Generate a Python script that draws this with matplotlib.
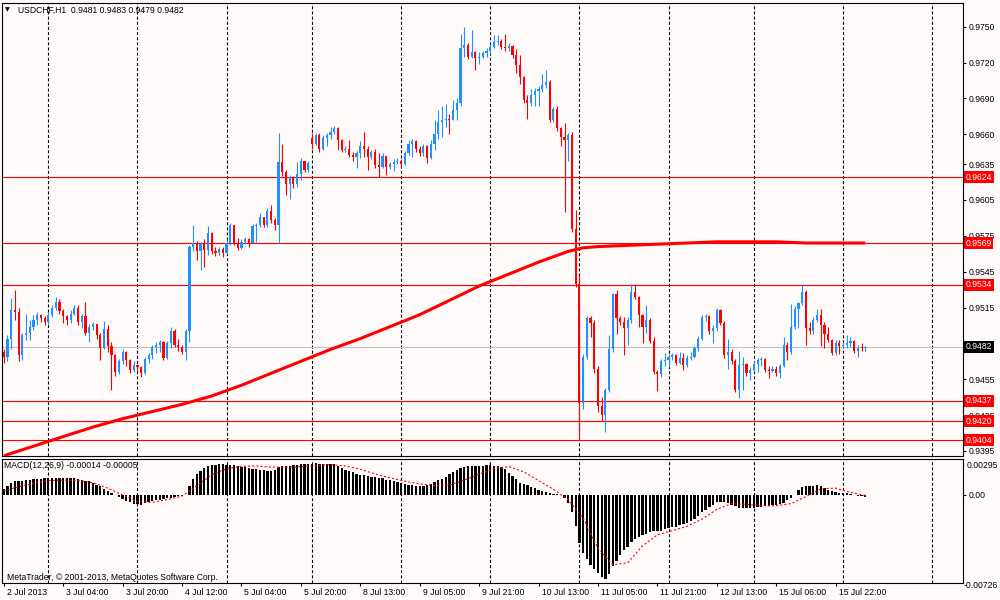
import numpy as np
import matplotlib
matplotlib.use("Agg")
import matplotlib.pyplot as plt
from matplotlib import transforms

plt.rcParams['font.family'] = ['Liberation Sans', 'DejaVu Sans']
plt.rcParams['lines.scale_dashes'] = False

# H1 candles, prices in pips (0.9474 -> 9474); open = previous close
first_open = 9478
gap_opens = {83: 9657}
closes = [
    9474, 9489, 9513, 9511, 9475, 9492, 9494, 9499, 9505, 9509,
    9506, 9503, 9509, 9515, 9520, 9512, 9508, 9505, 9510, 9515,
    9503, 9508, 9494, 9499, 9501, 9492, 9481, 9497, 9483, 9475,
    9461, 9470, 9478, 9471, 9463, 9467, 9465, 9460, 9472, 9475,
    9482, 9484, 9486, 9473, 9485, 9495, 9484, 9482, 9478, 9495,
    9566, 9569, 9562, 9568, 9563, 9577, 9562, 9561, 9564, 9561,
    9569, 9584, 9569, 9565, 9570, 9572, 9569, 9583, 9584, 9591,
    9584, 9596, 9588, 9584, 9637, 9628, 9618, 9624, 9618, 9627,
    9638, 9630, 9636, 9652, 9659, 9648, 9657, 9659, 9662, 9665,
    9655, 9647, 9648, 9643, 9641, 9644, 9650, 9648, 9641, 9645,
    9634, 9633, 9642, 9633, 9635, 9637, 9638, 9635, 9644, 9652,
    9654, 9648, 9644, 9650, 9640, 9652, 9660, 9670, 9672, 9673,
    9672, 9680, 9686, 9732, 9735, 9725, 9729, 9724, 9725, 9728,
    9730, 9733, 9737, 9738, 9733, 9732, 9734, 9726, 9718, 9708,
    9689, 9686, 9693, 9696, 9698, 9701, 9704, 9672, 9681, 9665,
    9658, 9655, 9659, 9581, 9535, 9435, 9474, 9506, 9502, 9464,
    9433, 9425, 9446, 9480, 9526, 9506, 9503, 9498, 9505, 9528,
    9524, 9509, 9499, 9505, 9487, 9461, 9459, 9470, 9471, 9474,
    9475, 9469, 9473, 9467, 9473, 9474, 9481, 9489, 9507, 9508,
    9495, 9498, 9513, 9502, 9475, 9478, 9470, 9446, 9467, 9468,
    9460, 9463, 9468, 9471, 9472, 9463, 9462, 9464, 9460, 9466,
    9484, 9478, 9499, 9514, 9519, 9528, 9498, 9495, 9505, 9509,
    9500, 9493, 9488, 9477, 9485, 9483, 9484, 9485, 9487, 9479,
    9481, 9481, 9482,
]
highs = [
    9480, 9492, 9523, 9530, 9515, 9494, 9510, 9505, 9509, 9511,
    9510, 9508, 9511, 9517, 9524, 9522, 9514, 9509, 9513, 9517,
    9517, 9510, 9520, 9501, 9503, 9501, 9494, 9504, 9500, 9486,
    9476, 9472, 9480, 9479, 9472, 9470, 9468, 9466, 9474, 9477,
    9484, 9486, 9488, 9487, 9487, 9499, 9497, 9489, 9484, 9497,
    9567, 9584, 9571, 9570, 9572, 9583, 9578, 9566, 9566, 9566,
    9572, 9586, 9584, 9573, 9572, 9574, 9573, 9585, 9586, 9594,
    9590, 9598, 9601, 9590, 9661, 9652, 9630, 9626, 9625, 9637,
    9640, 9637, 9638, 9661, 9661, 9661, 9659, 9661, 9666, 9667,
    9666, 9656, 9650, 9655, 9645, 9646, 9654, 9662, 9650, 9647,
    9648, 9644, 9644, 9642, 9637, 9639, 9640, 9639, 9646, 9655,
    9656, 9655, 9650, 9652, 9651, 9655, 9672, 9680, 9684, 9685,
    9677, 9689, 9690, 9744, 9750, 9736, 9747, 9730, 9729, 9730,
    9732, 9735, 9743, 9743, 9740, 9744, 9736, 9735, 9731, 9726,
    9709, 9693, 9698, 9699, 9700, 9710, 9714, 9705, 9683, 9684,
    9666, 9669, 9661, 9662, 9597, 9541, 9476, 9508, 9508, 9505,
    9466, 9440, 9448, 9492, 9527, 9530, 9508, 9507, 9507, 9535,
    9535, 9525, 9510, 9517, 9506, 9490, 9463, 9472, 9477, 9476,
    9477, 9476, 9478, 9477, 9475, 9478, 9483, 9491, 9509, 9510,
    9509, 9500, 9515, 9514, 9504, 9489, 9480, 9472, 9479, 9474,
    9469, 9465, 9470, 9473, 9474, 9473, 9466, 9466, 9466, 9468,
    9490, 9486, 9518, 9516, 9520, 9534, 9530, 9503, 9507, 9514,
    9514, 9503, 9499, 9489, 9488, 9488, 9486, 9492, 9490, 9488,
    9484, 9485, 9483,
]
lows = [
    9469, 9470, 9480, 9505, 9470, 9471, 9488, 9488, 9496, 9500,
    9503, 9500, 9501, 9507, 9513, 9510, 9502, 9500, 9502, 9509,
    9500, 9498, 9492, 9486, 9496, 9489, 9471, 9480, 9478, 9446,
    9458, 9459, 9468, 9466, 9460, 9461, 9462, 9457, 9459, 9469,
    9472, 9477, 9478, 9471, 9472, 9481, 9482, 9479, 9476, 9471,
    9486, 9562, 9555, 9546, 9549, 9559, 9560, 9558, 9559, 9557,
    9560, 9567, 9567, 9563, 9564, 9568, 9566, 9569, 9570, 9582,
    9582, 9582, 9586, 9580, 9569, 9625, 9609, 9606, 9615, 9616,
    9622, 9628, 9628, 9648, 9651, 9645, 9647, 9650, 9656, 9660,
    9647, 9645, 9645, 9641, 9638, 9632, 9640, 9641, 9630, 9639,
    9632, 9624, 9632, 9626, 9631, 9629, 9635, 9633, 9634, 9643,
    9641, 9645, 9642, 9642, 9636, 9639, 9647, 9656, 9658, 9666,
    9660, 9672, 9672, 9684, 9725, 9723, 9724, 9714, 9719, 9724,
    9725, 9727, 9732, 9735, 9731, 9730, 9730, 9724, 9711, 9702,
    9686, 9673, 9684, 9684, 9684, 9695, 9699, 9670, 9670, 9663,
    9650, 9595, 9638, 9578, 9532, 9404, 9430, 9472, 9490, 9460,
    9428, 9420, 9411, 9444, 9478, 9493, 9500, 9475, 9484, 9502,
    9522, 9499, 9485, 9494, 9485, 9459, 9445, 9457, 9466, 9465,
    9471, 9467, 9468, 9463, 9465, 9471, 9473, 9479, 9488, 9504,
    9493, 9485, 9495, 9500, 9473, 9464, 9468, 9444, 9439, 9446,
    9458, 9454, 9461, 9461, 9466, 9461, 9456, 9461, 9458, 9456,
    9465, 9471, 9476, 9497, 9498, 9517, 9484, 9493, 9493, 9503,
    9483, 9481, 9486, 9475, 9475, 9476, 9481, 9481, 9482, 9477,
    9474, 9479, 9479,
]

# moving average (thick red), read at a few bars
ma_bars = [0, 8, 16, 24, 32, 40, 48, 56, 64, 72, 80, 88, 96, 104, 112, 120,
           128, 136, 144, 152, 156, 160, 168, 176, 184, 192, 200, 208, 216, 224, 232]
ma_vals = [9391, 9399, 9407, 9415, 9422, 9428, 9434, 9441, 9450, 9460, 9470,
           9480, 9489, 9499, 9509, 9521, 9533, 9543, 9553, 9562, 9565, 9566,
           9567, 9568, 9569, 9570, 9570, 9570, 9569, 9569, 9569]

# MACD(12,26,9) histogram per bar, in 0.00001
macd_hist = [
    50, 70, 95, 110, 113, 117, 121, 125, 128, 130,
    133, 135, 137, 138, 139, 140, 140, 139, 137, 135,
    130, 124, 117, 110, 98, 84, 70, 50, 32, 15,
    -5, -20, -35, -50, -63, -74, -78, -80, -70, -58,
    -52, -46, -40, -35, -30, -25, -18, -12, -8, -5,
    70, 130, 170, 200, 220, 235, 242, 248, 250, 250,
    248, 246, 242, 238, 232, 226, 221, 216, 212, 206,
    202, 200, 200, 205, 228, 235, 238, 240, 243, 247,
    250, 252, 254, 256, 258, 256, 255, 254, 253, 251,
    240, 222, 205, 195, 185, 173, 165, 160, 155, 150,
    145, 141, 135, 126, 118, 110, 104, 98, 90, 82,
    78, 73, 70, 75, 82, 90, 105, 118, 128, 148,
    168, 185, 205, 222, 232, 238, 240, 240, 240, 241,
    242, 242, 240, 236, 230, 210, 180, 155, 130, 100,
    90, 78, 66, 55, 42, 34, 25, 15, 10, 5,
    -5, -30, -70, -140, -260, -400, -480, -530, -580, -610,
    -640, -675, -690, -650, -590, -545, -495, -455, -430, -390,
    -365, -345, -330, -322, -310, -300, -300, -295, -285, -275,
    -268, -262, -252, -242, -230, -218, -198, -175, -145, -122,
    -102, -82, -62, -55, -58, -66, -80, -95, -105, -110,
    -112, -110, -106, -100, -100, -96, -92, -86, -80, -74,
    -68, -45, -25, 0, 40, 68, 72, 72, 75, 80,
    70, 58, 42, 30, 22, 17, 14, 12, 10, 0,
    -8, -12, -14,
]
signal_bars = list(range(0, 233, 4))
signal_vals = [35, 65, 95, 117, 122, 118, 100, 55, 0, -55,
               -62, -40, -10, 75, 165, 215, 235, 238, 228, 226,
               232, 240, 248, 238, 210, 172, 140, 112, 90, 76,
               80, 120, 170, 215, 232, 190, 118, 45, -40, -190,
               -440, -575, -560, -420, -330, -295, -260, -200, -120, -72,
               -78, -90, -90, -72, -15, 50, 55, 20, -5]

level_lines = [0.9624, 0.9569, 0.9534, 0.9437, 0.9420, 0.9404]
last_price = 0.9482
price_ticks = [0.9750, 0.9720, 0.9690, 0.9660, 0.9635, 0.9605, 0.9575,
               0.9545, 0.9515, 0.9485, 0.9455, 0.9425, 0.9395]
time_labels = ["2 Jul 2013", "3 Jul 04:00", "3 Jul 20:00", "4 Jul 12:00",
               "5 Jul 04:00", "5 Jul 20:00", "8 Jul 13:00", "9 Jul 05:00",
               "9 Jul 21:00", "10 Jul 13:00", "11 Jul 05:00", "11 Jul 21:00",
               "12 Jul 13:00", "15 Jul 06:00", "15 Jul 22:00"]
time_label_bars = [0, 16, 32, 48, 64, 80, 96, 112, 128, 144, 160, 176, 192, 208, 224]
day_start_bars = [12, 36, 60, 83, 107, 131, 155, 179, 202, 226, 250]

bg = '#FFFAFA'
bull = '#1E90FF'
bear = '#FF0000'
fs = 6.2

c = np.array(closes) / 10000
h = np.array(highs) / 10000
l = np.array(lows) / 10000
o = np.concatenate([[first_open / 10000], c[:-1]])
for k, v in gap_opens.items():
    o[k] = v / 10000
h = np.maximum(h, np.maximum(o, c))
l = np.minimum(l, np.minimum(o, c))
x = np.arange(len(c))
cols = [bull if cc > oo else bear for oo, cc in zip(o, c)]

fig = plt.figure(figsize=(10, 6), dpi=100, facecolor=bg)
ax = fig.add_axes([0.002, 0.24, 0.961, 0.755], facecolor=bg)
ax2 = fig.add_axes([0.002, 1 - 583 / 600, 0.961, 124 / 600], facecolor=bg)

xlim = (-0.47, 258.3)
for a in (ax, ax2):
    a.set_xlim(*xlim)
    for b in day_start_bars:
        a.axvline(b, color='black', lw=0.8, dashes=(2.2, 1.5), zorder=1)
    for s in a.spines.values():
        s.set_color('black')
        s.set_linewidth(0.8)

ax.set_ylim(0.93908, 0.97698)

# levels
for lvl in level_lines:
    ax.axhline(lvl, color='#FF0000', lw=0.8, zorder=2)
ax.axhline(last_price, color='#C0C0C0', lw=0.8, zorder=2)

# candles
ax.vlines(x, l, h, colors=cols, lw=0.8, zorder=3)
body = np.maximum(np.abs(c - o), 0.00008)
ax.bar(x, body, bottom=np.minimum(o, c), width=0.58, color=cols, lw=0, zorder=4)

# moving average
ax.plot(ma_bars, np.array(ma_vals) / 10000, color='#FF0000', lw=2.2, zorder=5,
        solid_capstyle='butt', solid_joinstyle='round')

ax.set_xticks([])
ax.yaxis.tick_right()
ax.set_yticks(price_ticks)
ax.set_yticklabels([f"{t:.4f}" for t in price_ticks])
ax.tick_params(axis='y', direction='out', length=2.5, width=0.8, pad=1.5,
               labelsize=fs, colors='black')

trans = transforms.blended_transform_factory(ax.transAxes, ax.transData)
for lvl in level_lines:
    ax.text(1.0028, lvl, f"{lvl:.4f}", transform=trans, fontsize=fs, color='white',
            va='center', ha='left', clip_on=False, zorder=10,
            bbox=dict(boxstyle='square,pad=0.18', fc='#FF0000', ec='none'))
ax.text(1.0028, last_price, f"{last_price:.4f}", transform=trans, fontsize=fs,
        color='white', va='center', ha='left', clip_on=False, zorder=10,
        bbox=dict(boxstyle='square,pad=0.18', fc='black', ec='none'))

# MACD panel
ax2.set_ylim(-0.00726, 0.00295)
ax2.bar(x, np.array(macd_hist) / 1e5, width=0.62, color='black', lw=0, zorder=3)
ax2.plot(signal_bars, np.array(signal_vals) / 1e5, color='#FF0000', lw=0.8,
         dashes=(1.5, 1.5), zorder=4)
ax2.yaxis.tick_right()
ax2.set_yticks([0])
ax2.set_yticklabels(["0.00"])
ax2.tick_params(axis='y', direction='out', length=2.5, width=0.8, pad=1.5,
                labelsize=fs, colors='black')
fig.text(967 / 1000, 1 - 465 / 600, "0.00295", fontsize=fs, va='center')
fig.text(964 / 1000, 1 - 586 / 600, "-0.00726", fontsize=fs, va='center')

ax2.set_xticks(time_label_bars)
ax2.set_xticklabels(time_labels, ha='left')
ax2.tick_params(axis='x', direction='out', length=2.5, width=0.8, pad=1,
                labelsize=fs, colors='black')
shift = transforms.ScaledTranslation(3 / 100, 0, fig.dpi_scale_trans)
for lab in ax2.get_xticklabels():
    lab.set_transform(lab.get_transform() + shift)

# texts
fig.text(7 / 1000, 1 - 10 / 600, "\u25bc", fontsize=4.5, ha='center', va='center',
         family='DejaVu Sans')
fig.text(18 / 1000, 1 - 10 / 600, "USDCHF,H1  0.9481 0.9483 0.9479 0.9482",
         fontsize=fs, va='center')
fig.text(4 / 1000, 1 - 465 / 600, "MACD(12,26,9) -0.00014 -0.00005",
         fontsize=fs, va='center')
fig.text(7 / 1000, 1 - 577 / 600, "MetaTrader, \u00a9 2001-2013, MetaQuotes Software Corp.",
         fontsize=fs, va='center')

fig.savefig("out.png", dpi=100, facecolor=bg)
